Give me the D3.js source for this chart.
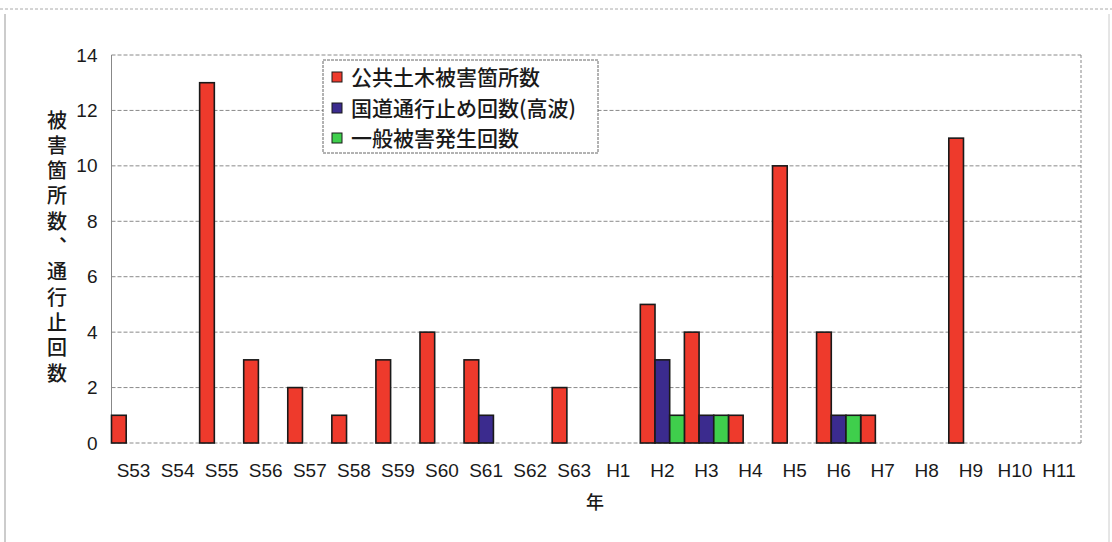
<!DOCTYPE html>
<html><head><meta charset="utf-8">
<script src="https://cdn.jsdelivr.net/npm/d3@7/dist/d3.min.js"></script>
<style>body{margin:0;background:#fff}svg{display:block}text{font-family:"Liberation Sans",Arial,sans-serif;fill:#1a1a1a}</style>
</head><body><svg id="c" width="1112" height="542"></svg>
<script>
const categories = ["S53","S54","S55","S56","S57","S58","S59","S60","S61","S62","S63","H1","H2","H3","H4","H5","H6","H7","H8","H9","H10","H11"];
const seriesNames = ["公共土木被害箇所数","国道通行止め回数(高波)","一般被害発生回数"];
const publicWorks = [1,0,13,3,2,1,3,4,3,0,2,0,5,4,1,10,4,1,0,11,0,0];
const roadClosures = [0,0,0,0,0,0,0,0,1,0,0,0,3,1,0,0,1,0,0,0,0,0];
const generalDamage = [0,0,0,0,0,0,0,0,0,0,0,0,1,1,0,0,1,0,0,0,0,0];
const yTicks = [0,2,4,6,8,10,12,14];
const yTitle = "被害箇所数、通行止回数";
const xTitle = "年";
const colors = ["#ee3a2c","#3b2b8e","#3fcf4c"];

const svg = d3.select("#c");
const M = {l:111.5, r:1081, t:55, b:443};
const x = d3.scaleBand().domain(categories).range([M.l, M.r]).padding(0);
const xs = d3.scaleBand().domain([0,1,2]).range([0, x.bandwidth()]).padding(0);
const y = d3.scaleLinear().domain([0,14]).range([M.b, M.t]);

// outer frame
svg.append("line").attr("x1",0).attr("x2",1112).attr("y1",9).attr("y2",9).attr("stroke","#aaa").attr("stroke-dasharray","3,2");
svg.append("line").attr("x1",5).attr("x2",5).attr("y1",14).attr("y2",542).attr("stroke","#999");
svg.append("line").attr("x1",1109).attr("x2",1109).attr("y1",14).attr("y2",542).attr("stroke","#ccc");

// gridlines
svg.append("g").selectAll("line").data(yTicks).join("line")
  .attr("x1",M.l).attr("x2",M.r).attr("y1",d=>y(d)).attr("y2",d=>y(d))
  .attr("stroke","#8a8a8a").attr("stroke-width",1).attr("stroke-dasharray","4,2");
// plot borders
svg.append("line").attr("x1",M.l).attr("x2",M.l).attr("y1",M.t).attr("y2",M.b).attr("stroke","#888");
svg.append("line").attr("x1",M.r).attr("x2",M.r).attr("y1",M.t).attr("y2",M.b).attr("stroke","#888").attr("stroke-dasharray","3,2");

// y axis
const ya = svg.append("g").attr("transform",`translate(${M.l},0)`).call(d3.axisLeft(y).tickValues(yTicks).tickSize(0).tickPadding(14));
ya.select(".domain").remove();
ya.selectAll("text").style("font-size","19px").style("fill","#1a1a1a").style("font-family","Liberation Sans, Arial, sans-serif");

// x axis
const xa = svg.append("g").attr("transform",`translate(0,${M.b})`).call(d3.axisBottom(x).tickSize(0).tickPadding(21));
xa.select(".domain").remove();
xa.selectAll("text").style("font-size","19px").style("fill","#1a1a1a").style("font-family","Liberation Sans, Arial, sans-serif");

// bars
const series = [publicWorks, roadClosures, generalDamage];
series.forEach((vals,si)=>{
  svg.append("g").selectAll("rect").data(categories.map((c,i)=>({c,v:vals[i]})).filter(d=>d.v>0)).join("rect")
    .attr("x",d=>x(d.c)+xs(si)).attr("width",xs.bandwidth())
    .attr("y",d=>y(d.v)).attr("height",d=>y(0)-y(d.v))
    .attr("fill",colors[si]).attr("stroke","#1a1a1a").attr("stroke-width",1.6);
});

// y title vertical (single text, vertical writing mode)
svg.append("text").attr("x",57).attr("y",110)
  .style("writing-mode","vertical-rl").style("glyph-orientation-vertical","0")
  .style("font-family","Noto Sans CJK JP").style("font-size","20px").style("font-weight","500")
  .style("letter-spacing","5.3px")
  .text(yTitle);

// x title
svg.append("text").attr("x",595).attr("y",503).attr("dy","0.36em").attr("text-anchor","middle")
  .style("font-family","Noto Sans CJK JP").style("font-size","18px").style("font-weight","500").text(xTitle);

// legend
const lg = svg.append("g");
lg.append("rect").attr("x",323).attr("y",60).attr("width",275).attr("height",93).attr("fill","#fff").attr("stroke","#666").attr("stroke-dasharray","3,1");
const ly = [77,108,138];
seriesNames.forEach((n,i)=>{
  lg.append("rect").attr("x",332).attr("y",ly[i]-5).attr("width",10).attr("height",10).attr("fill",colors[i]).attr("stroke","#1a1a1a").attr("stroke-width",1);
  lg.append("text").attr("x",351).attr("y",ly[i]).attr("dy","0.36em")
    .style("font-family","Noto Sans CJK JP").style("font-size","21px").style("font-weight","500").text(n);
});
</script></body></html>
